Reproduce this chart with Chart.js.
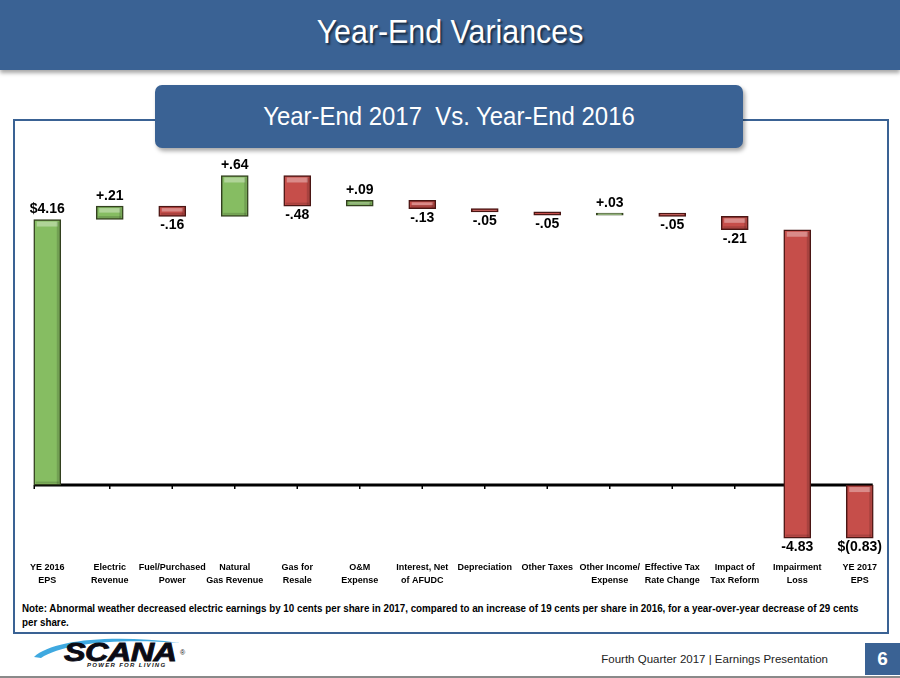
<!DOCTYPE html>
<html>
<head>
<meta charset="utf-8">
<script src="https://cdn.jsdelivr.net/npm/chart.js@4/dist/chart.umd.min.js"></script>
<style>
  html, body { margin:0; padding:0; width:900px; height:678px; overflow:hidden; background:#fff; }
  body { position:relative; font-family:'Liberation Sans',Arial,sans-serif; }
  #header { position:absolute; left:0; top:0; width:900px; height:70px; background:#3A6294;
            box-shadow:0 3px 4px rgba(0,0,0,0.35); }
  #title { position:absolute; left:0; top:12px; width:900px; text-align:center; color:#fff;
           font-size:33px; line-height:40px; text-shadow:2px 2px 2px rgba(0,0,0,0.55);
           transform:scaleX(0.92); }
  #frame { position:absolute; left:13px; top:119px; width:872px; height:511px; border:2px solid #3A6294; }
  #subbox { position:absolute; left:155px; top:85px; width:588px; height:63px; background:#3A6294;
            border-radius:7px; box-shadow:2px 3px 4px rgba(0,0,0,0.35); }
  #subtitle { position:absolute; left:0; top:0; width:100%; height:63px; line-height:63px; text-align:center;
              color:#fff; font-size:26px; transform:scaleX(0.92); }
  #chartwrap { position:absolute; left:16px; top:134px; width:875px; height:465px; }
  #note { position:absolute; left:22px; top:601px; font-size:11px; font-weight:bold; color:#000;
          line-height:14px; white-space:nowrap; transform:scaleX(0.89); transform-origin:left top; }
  #logo { position:absolute; left:30px; top:634px; width:160px; height:40px; }
  #swoosh { position:absolute; left:2px; top:2px; width:150px; height:22px; }
  #scana { position:absolute; left:34px; top:3px; font-family:'Liberation Sans',Arial,sans-serif; font-weight:900;
           font-style:italic; font-size:25px; letter-spacing:-0.5px; color:#0B0B14; line-height:30px;
           transform:scaleX(1.3); transform-origin:left; -webkit-text-stroke:0.8px #0B0B14; }
  #reg { position:absolute; left:150px; top:15px; font-size:7px; color:#111; }
  #tag { position:absolute; left:57px; top:28px; font-family:'Liberation Sans',Arial,sans-serif; font-weight:bold; font-style:italic;
         font-size:6px; letter-spacing:1.3px; color:#111; }
  #footer { position:absolute; left:560px; top:653px; width:268px; text-align:right; font-size:11.5px; color:#222;
            white-space:nowrap; }
  #pagebox { position:absolute; left:865px; top:643px; width:35px; height:32px; background:#3A6294; color:#fff;
             font-weight:bold; font-size:19px; line-height:32px; text-align:center; }
  #bottomline { position:absolute; left:0; top:676px; width:900px; height:2px; background:#8a8a8a; }
</style>
</head>
<body>
<div id="header"><div id="title">Year-End Variances</div></div>
<div id="frame"></div>
<div id="subbox"><div id="subtitle">Year-End 2017&nbsp; Vs. Year-End 2016</div></div>
<div id="chartwrap"><canvas id="c" width="875" height="465"></canvas></div>
<div id="note">Note: Abnormal weather decreased electric earnings by 10 cents per share in 2017, compared to an increase of 19 cents per share in 2016, for a year-over-year decrease of 29 cents<br>per share.</div>
<div id="logo">
  <svg id="swoosh" viewBox="0 0 150 22"><path d="M2 21 C 20 4, 80 -2, 148 7 C 90 2, 30 7, 9 22 Z" fill="#3FA9E0"/></svg>
  <div id="scana">SCANA</div><div id="reg">®</div>
  <div id="tag">POWER FOR LIVING</div>
</div>
<div id="footer">Fourth Quarter 2017 | Earnings Presentation</div>
<div id="pagebox">6</div>
<div id="bottomline"></div>

<script>
// ---- data ----
const categories = [
  ["YE 2016","EPS"], ["Electric","Revenue"], ["Fuel/Purchased","Power"], ["Natural","Gas Revenue"],
  ["Gas for","Resale"], ["O&M","Expense"], ["Interest, Net","of AFUDC"], ["Depreciation"],
  ["Other Taxes"], ["Other Income/","Expense"], ["Effective Tax","Rate Change"], ["Impact of","Tax Reform"],
  ["Impairment","Loss"], ["YE 2017","EPS"]
];
const startEPS = 4.16;
const changes = [0.21, -0.16, 0.64, -0.48, 0.09, -0.13, -0.05, -0.05, 0.03, -0.05, -0.21, -4.83];
const endEPS = -0.83;
const yTicks = { min: -1, max: 5.5, step: 0.5 };

// ---- build floating bars from the values ----
const ranges = [[0, startEPS]];
const labelsTxt = ["$" + startEPS.toFixed(2)];
const kinds = ["up"];
let run = startEPS;
changes.forEach(v => {
  const next = Math.round((run + v) * 100) / 100;
  ranges.push([run, next]);
  const s = Math.abs(v).toFixed(2).replace(/^0\./, '.');
  labelsTxt.push((v >= 0 ? '+' : '-') + s);
  kinds.push(v >= 0 ? 'up' : 'down');
  run = next;
});
ranges.push([0, endEPS]);
labelsTxt.push(endEPS < 0 ? "$(" + Math.abs(endEPS).toFixed(2) + ")" : "$" + endEPS.toFixed(2));
kinds.push(endEPS < 0 ? 'down' : 'up');

const GREEN = '#86BD62', GREEN_B = '#33401F';
const RED = '#C64E4A', RED_B = '#4A1614';

const zeroLine = {
  id: 'zeroLine',
  beforeDatasetsDraw(chart) {
    const x = chart.scales.x, y = chart.scales.y, ctx = chart.ctx;
    const y0 = y.getPixelForValue(0);
    const x0 = x.getPixelForValue(0) - 13, x1 = x.getPixelForValue(categories.length - 1) + 13;
    ctx.save();
    ctx.strokeStyle = '#000'; ctx.lineWidth = 3;
    ctx.beginPath(); ctx.moveTo(x0, y0); ctx.lineTo(x1, y0); ctx.stroke();
    ctx.lineWidth = 1.5;
    for (let i = 0; i < categories.length - 1; i++) {
      const px = i === 0 ? x0 : x.getPixelForValue(i);
      ctx.beginPath(); ctx.moveTo(px, y0); ctx.lineTo(px, y0 + 4); ctx.stroke();
    }
    ctx.restore();
  }
};

const bevelAndLabels = {
  id: 'bevelAndLabels',
  afterDatasetsDraw(chart) {
    const ctx = chart.ctx;
    const meta = chart.getDatasetMeta(0);
    ctx.save();
    meta.data.forEach((bar, i) => {
      const top = Math.min(bar.y, bar.base), bot = Math.max(bar.y, bar.base);
      const left = bar.x - bar.width / 2, right = bar.x + bar.width / 2;
      const h = bot - top;
      if (h > 5) {
        const hh = Math.min(5, h / 3);
        ctx.fillStyle = 'rgba(255,255,255,0.35)';
        ctx.fillRect(left + 3, top + 2, bar.width - 6, hh);
        ctx.fillStyle = 'rgba(0,0,0,0.15)';
        ctx.fillRect(right - 4, top + 2, 2.5, h - 3);
        ctx.fillRect(left + 2, bot - 3.5, bar.width - 4, 2);
      }
      ctx.fillStyle = '#000';
      ctx.font = "bold 14px 'Liberation Sans',Arial,sans-serif";
      ctx.textAlign = 'center';
      if (kinds[i] === 'up') {
        ctx.textBaseline = 'bottom';
        ctx.fillText(labelsTxt[i], bar.x, top - 3);
      } else {
        ctx.textBaseline = 'top';
        ctx.fillText(labelsTxt[i], bar.x, bot + 2);
      }
    });
    ctx.restore();
  }
};

new Chart(document.getElementById('c'), {
  type: 'bar',
  data: {
    labels: categories,
    datasets: [{
      data: ranges,
      backgroundColor: kinds.map(k => k === 'up' ? GREEN : RED),
      borderColor: kinds.map(k => k === 'up' ? GREEN_B : RED_B),
      borderWidth: 1.5,
      borderSkipped: false,
      barThickness: 27
    }]
  },
  options: {
    responsive: false,
    animation: false,
    layout: { padding: 0 },
    plugins: { legend: { display: false }, tooltip: { enabled: false } },
    scales: {
      x: {
        grid: { display: false, drawTicks: false },
        border: { display: false },
        ticks: {
          padding: 12,
          color: '#000',
          maxRotation: 0, autoSkip: false,
          font: { family: "'Liberation Sans',Arial,sans-serif", size: 9, weight: 'bold', lineHeight: 1.45 }
        }
      },
      y: {
        min: yTicks.min, max: yTicks.max,
        ticks: { display: false, stepSize: yTicks.step },
        grid: { display: false, drawTicks: false },
        border: { display: false }
      }
    }
  },
  plugins: [zeroLine, bevelAndLabels]
});
</script>
</body>
</html>
